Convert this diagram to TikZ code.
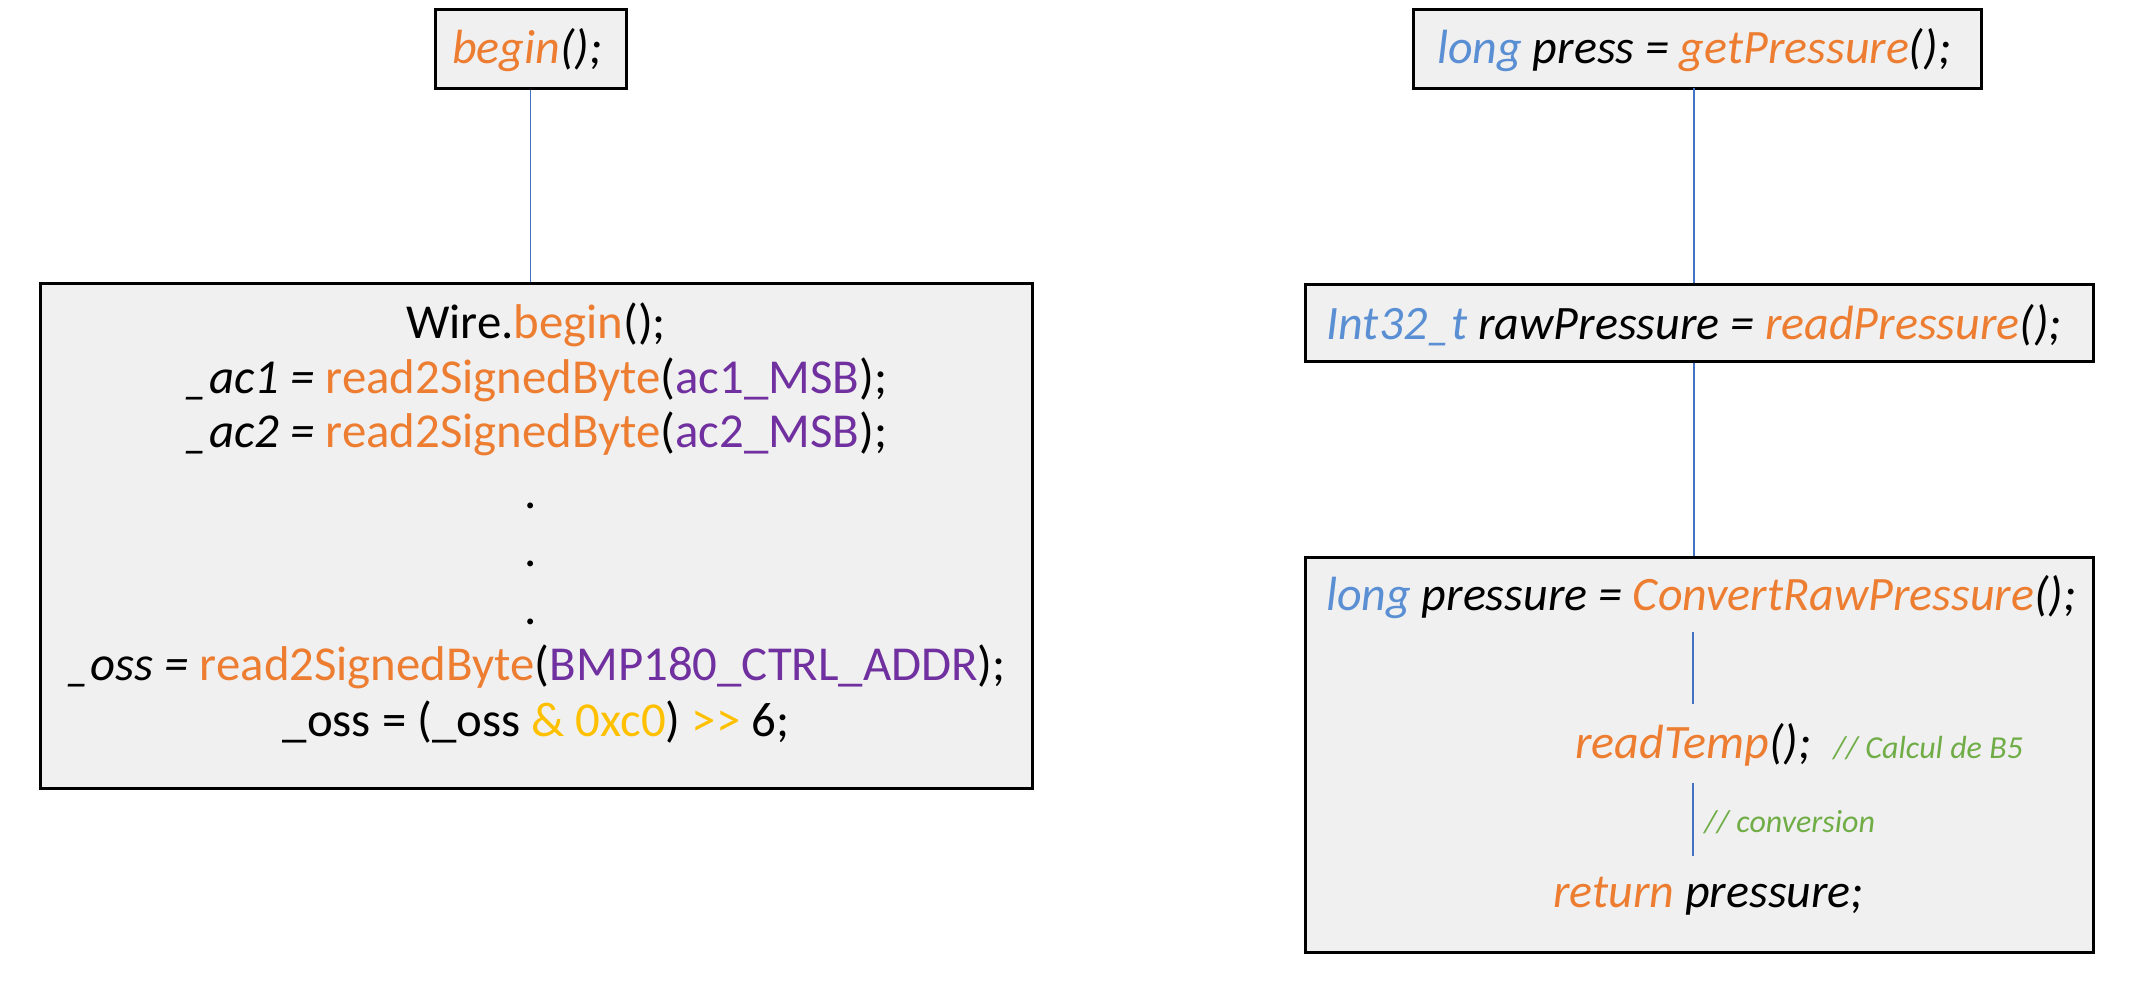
\documentclass[tikz,border=0pt]{standalone}
\usepackage{fontspec}
\setmainfont{Carlito}
\usetikzlibrary{fit}

\definecolor{kwblue}{HTML}{5B8FD4}
\definecolor{fnorange}{HTML}{ED7D31}
\definecolor{argpurple}{HTML}{7030A0}
\definecolor{opyellow}{HTML}{FFC000}
\definecolor{cmtgreen}{HTML}{70AD47}
\definecolor{boxgray}{HTML}{F0F0F0}
\definecolor{linkblue}{HTML}{4472C4}

\newcommand{\fn}[1]{\textcolor{fnorange}{#1}}
\newcommand{\kw}[1]{\textcolor{kwblue}{#1}}
\newcommand{\argname}[1]{\textcolor{argpurple}{#1}}
\newcommand{\op}[1]{\textcolor{opyellow}{#1}}

\begin{document}
\begin{tikzpicture}[x=0.5pt, y=-0.5pt,
    codebox/.style={draw=black, line width=1.5pt, fill=boxgray, inner sep=0pt},
    link/.style={draw=linkblue, line width=0.7pt},
    code/.style={anchor=base, inner sep=0pt, font=\fontsize{24}{28}\selectfont\itshape},
    bigcode/.style={anchor=base, inner sep=0pt, font=\fontsize{24.4}{28}\selectfont},
    comment/.style={anchor=base west, inner sep=0pt, text=cmtgreen, font=\fontsize{16}{19}\selectfont\itshape}]

    \useasboundingbox (0,0) rectangle (2156,982);

    % boxes
    \node[codebox, fit={(435,9) (626,88)}] (begin) {};
    \node[codebox, fit={(40,283) (1032,788)}] (setup) {};
    \node[codebox, fit={(1413,9) (1981,88)}] (press) {};
    \node[codebox, fit={(1305,284) (2093,361)}] (raw) {};
    \node[codebox, fit={(1305,557) (2093,952)}] (convert) {};

    % links between boxes
    \draw[link] (begin.south) -- (begin.south |- setup.north);
    \draw[link] (1694,88) coordinate (press-out) -- (press-out |- raw.north);
    \draw[link] (press-out |- raw.south) -- (press-out |- convert.north);

    % left side
    \node[code] (begin-txt) at (527,63) {\fn{begin}();};

    \node[bigcode] (wire-txt) at (536,338) {Wire.\fn{begin}();};
    \node[bigcode] (ac1-txt) at (536,393) {\textit{\_ac1 =} \fn{read2SignedByte}(\argname{ac1\_MSB});};
    \node[bigcode] (ac2-txt) at (536,447) {\textit{\_ac2 =} \fn{read2SignedByte}(\argname{ac2\_MSB});};
    \foreach \y/\n in {508/1, 566/2, 624/3}
        \node[bigcode] (dot\n) at (531,\y) {.};
    \node[bigcode] (oss-txt) at (536,680) {\textit{\_oss =} \fn{read2SignedByte}(\argname{BMP180\_CTRL\_ADDR});};
    \node[bigcode] (shift-txt) at (536,736) {\_oss = (\_oss \op{\& 0xc0}) \op{>{}>} 6;};

    % right side
    \node[code] (press-txt) at (1694,63) {\kw{long} press = \fn{getPressure}();};
    \node[code] (raw-txt) at (1694,339) {\kw{Int32\_t} rawPressure = \fn{readPressure}();};
    \node[code] (conv-txt) at (1701,610) {\kw{long} pressure = \fn{ConvertRawPressure}();};

    \node[code, anchor=base west] (temp-txt) at (1575,758) {\fn{readTemp}();};
    \node[comment] (b5-txt) at (1833,758) {// Calcul de B5};
    \node[comment] (conversion-txt) at (1704,832) {// conversion};
    \node[code, anchor=base west] (ret-txt) at (1553,907) {\fn{return} pressure;};

    % inner steps
    \coordinate (step1-top) at (1693,632);
    \coordinate (step1-bot) at (1693,704);
    \coordinate (step2-top) at (1693,783);
    \coordinate (step2-bot) at (1693,856);
    \draw[link] (step1-top) -- (step1-bot);
    \draw[link] (step2-top) -- (step2-bot);
\end{tikzpicture}
\end{document}
